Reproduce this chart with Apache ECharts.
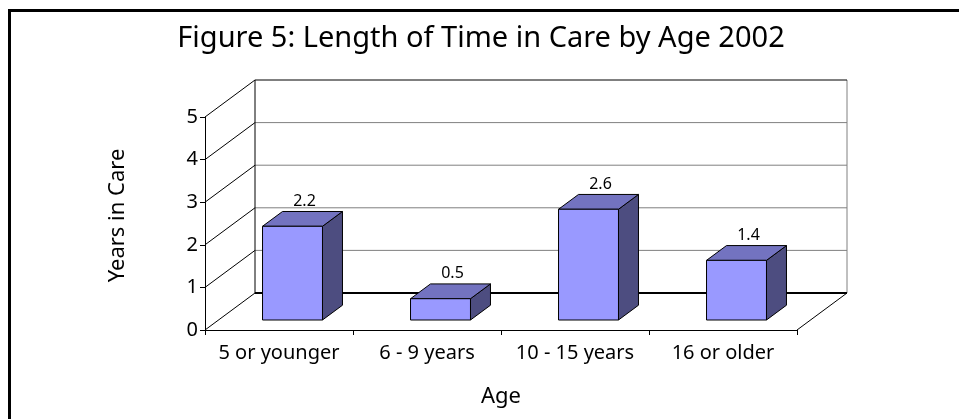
<!DOCTYPE html>
<html>
<head>
<meta charset="utf-8">
<script src="https://cdn.jsdelivr.net/npm/echarts@6/dist/echarts.min.js"></script>
<style>
html,body{margin:0;padding:0;background:#fff;}
#c{width:959px;height:419px;}
</style>
</head>
<body>
<div id="c"></div>
<script>
// ---- data ----
const categories = ['5 or younger', '6 - 9 years', '10 - 15 years', '16 or older'];
const values = [2.2, 0.5, 2.6, 1.4];
const yMin = 0, yMax = 5, yInterval = 1;
const titleText = 'Figure 5: Length of Time in Care by Age 2002';
const xName = 'Age';
const yName = 'Years in Care';

// ---- style constants (3D look) ----
const DEPTH = { x: 50, y: -37 };   // offset from front plane to back wall
const D0 = 0.27, DW = 0.40;        // bar front depth and bar thickness (fraction of depth)
const BAR_FRAC = 0.405;            // bar width as fraction of category band
const FONT = 'Noto Sans';

const chart = echarts.init(document.getElementById('c'), null, { renderer: 'canvas' });

function renderFrame(params, api) {
  const cs = params.coordSys;
  const L = cs.x, R = cs.x + cs.width;
  const ys = [];
  for (let v = yMin; v <= yMax; v += yInterval) ys.push({ v, y: api.coord([0, v])[1] });
  const children = [];
  const line = (x1, y1, x2, y2, color, w) => children.push({
    type: 'line', shape: { x1, y1, x2, y2 }, style: { stroke: color, lineWidth: w }, silent: true
  });
  const yTop = ys[ys.length - 1].y, yBot = ys[0].y;
  ys.forEach(({ v, y }) => {
    if (v === yMin || v === yMax) return;
    line(L + DEPTH.x, y + DEPTH.y, R + DEPTH.x, y + DEPTH.y, '#808080', 1);
  });
  line(R + DEPTH.x, yTop + DEPTH.y, R + DEPTH.x, yBot + DEPTH.y, '#808080', 1);
  line(L + DEPTH.x, yTop + DEPTH.y, R + DEPTH.x, yTop + DEPTH.y, '#000', 1);
  line(L + DEPTH.x, yTop + DEPTH.y, L + DEPTH.x, yBot + DEPTH.y, '#000', 1);
  ys.forEach(({ y }) => line(L, y, L + DEPTH.x, y + DEPTH.y, '#000', 1));
  line(L + DEPTH.x, yBot + DEPTH.y, R + DEPTH.x, yBot + DEPTH.y, '#000', 2);
  line(R, yBot, R + DEPTH.x, yBot + DEPTH.y, '#000', 1);
  return { type: 'group', children };
}

function renderBar(params, api) {
  const i = api.value(0), v = api.value(1);
  const p0 = api.coord([i, 0]);
  const p1 = api.coord([i, v]);
  const band = api.size([1, 0])[0];
  const w = band * BAR_FRAC;
  const ox = DEPTH.x * D0, oy = DEPTH.y * D0;
  const sx = DEPTH.x * DW, sy = DEPTH.y * DW;
  const Lx = p0[0] - w / 2 + ox, Rx = p0[0] + w / 2 + ox;
  const T = p1[1] + oy, B = p0[1] + oy;
  const stroke = { stroke: '#000', lineWidth: 1 };
  return {
    type: 'group',
    children: [
      { type: 'polygon', shape: { points: [[Rx, T], [Rx + sx, T + sy], [Rx + sx, B + sy], [Rx, B]] },
        style: Object.assign({ fill: '#4d4d80' }, stroke) },
      { type: 'polygon', shape: { points: [[Lx, T], [Rx, T], [Rx + sx, T + sy], [Lx + sx, T + sy]] },
        style: Object.assign({ fill: '#7373c0' }, stroke) },
      { type: 'rect', shape: { x: Lx, y: T, width: Rx - Lx, height: B - T },
        style: Object.assign({ fill: '#9999ff' }, stroke) },
      { type: 'text', x: (Lx + Rx) / 2 + sx / 2 + 2, y: T + sy - 2,
        style: { text: String(v), fill: '#000', font: '16px "' + FONT + '"', align: 'center', verticalAlign: 'bottom' } }
    ]
  };
}

const option = {
  animation: false,
  backgroundColor: '#fff',
  title: {
    text: titleText,
    left: 476, top: 19, textAlign: 'center',
    textStyle: { fontFamily: FONT, fontSize: 29, fontWeight: 'normal', color: '#000' }
  },
  graphic: [
    { type: 'line', shape: { x1: 8, y1: 10.5, x2: 959, y2: 10.5 }, style: { stroke: '#000', lineWidth: 3 } },
    { type: 'line', shape: { x1: 9.5, y1: 9, x2: 9.5, y2: 419 }, style: { stroke: '#000', lineWidth: 3 } }
  ],
  grid: { left: 205, top: 117, width: 592, height: 213, containLabel: false },
  xAxis: {
    type: 'category',
    data: categories,
    boundaryGap: true,
    name: xName, nameLocation: 'middle', nameGap: 56,
    nameTextStyle: { fontFamily: FONT, fontSize: 22, color: '#000' },
    axisLine: { lineStyle: { color: '#000', width: 1 } },
    axisTick: { show: true, length: 5, alignWithLabel: false, lineStyle: { color: '#000' } },
    axisLabel: { fontFamily: FONT, fontSize: 20, color: '#000', margin: 13, interval: 0 },
    splitLine: { show: false }
  },
  yAxis: {
    type: 'value',
    min: yMin, max: yMax, interval: yInterval,
    name: yName, nameLocation: 'middle', nameGap: 76, nameRotate: 90,
    nameTextStyle: { fontFamily: FONT, fontSize: 22, color: '#000', padding: [0, 0, 0, 16] },
    axisLine: { show: true, lineStyle: { color: '#000', width: 1 } },
    axisTick: { show: true, length: 5, lineStyle: { color: '#000' } },
    axisLabel: { fontFamily: FONT, fontSize: 20, color: '#000', margin: 7 },
    splitLine: { show: false }
  },
  series: [
    { type: 'custom', name: 'frame', coordinateSystem: 'cartesian2d', renderItem: renderFrame,
      data: [[0, 0]], z: 1, silent: true },
    { type: 'custom', name: 'bars', coordinateSystem: 'cartesian2d', renderItem: renderBar,
      data: values.map((v, i) => [i, v]), z: 3 }
  ]
};
chart.setOption(option);
</script>
</body>
</html>
